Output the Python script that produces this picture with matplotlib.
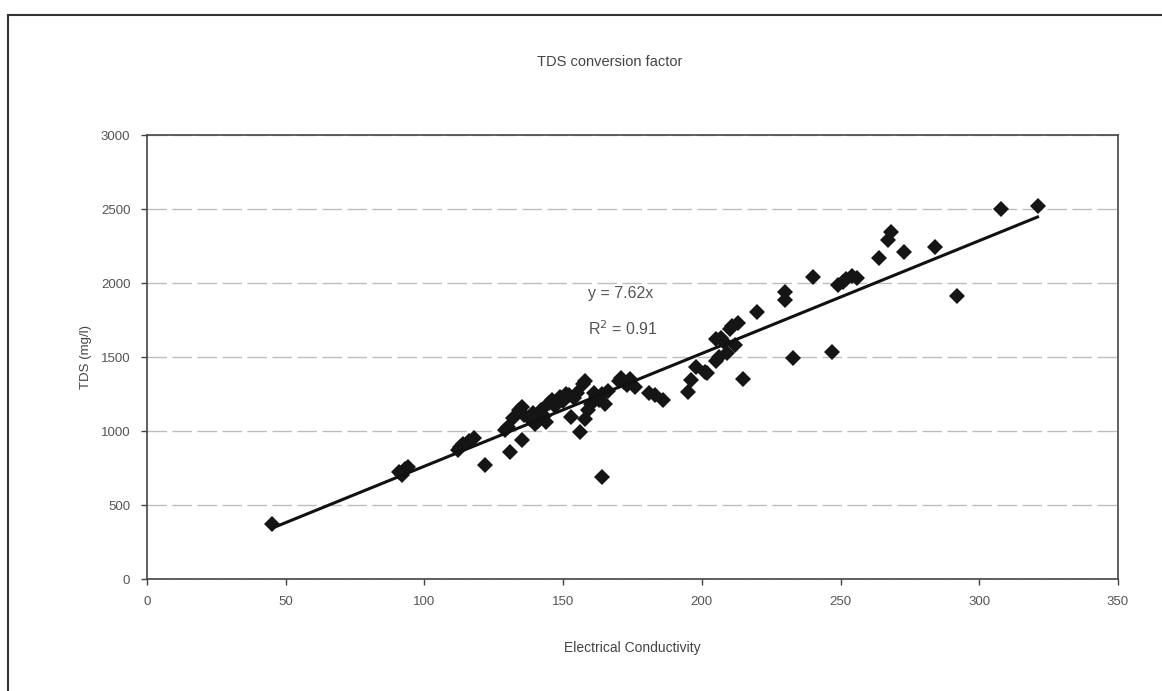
import matplotlib
matplotlib.use("Agg")
import matplotlib.pyplot as plt
from matplotlib.lines import Line2D
import numpy as np

plt.rcParams['font.family'] = ['Liberation Sans', 'DejaVu Sans']

title = "TDS conversion factor"
x_label = "Electrical Conductivity"
y_label = "TDS (mg/l)"
slope = 7.62
r2 = 0.91

ec = [45, 91, 92, 93, 94, 112, 113, 114, 116, 118, 122, 129, 130, 131, 132, 134, 135, 135,
      136, 138, 139, 140, 141, 142, 143, 144, 145, 146, 147, 149, 150, 151, 152, 153, 154,
      155, 156, 157, 158, 158, 159, 160, 161, 162, 163, 164, 164, 165, 166, 170, 171, 172,
      173, 174, 176, 181, 183, 186, 195, 196, 198, 201, 202, 205, 205, 206, 207, 208, 209,
      210, 211, 212, 213, 215, 220, 230, 230, 233, 240, 247, 249, 251, 252, 254, 256, 264,
      267, 268, 273, 284, 292, 308, 321]
tds = [375, 720, 705, 745, 760, 870, 895, 915, 935, 955, 770, 1010, 1030, 860, 1090, 1140,
       1160, 940, 1110, 1080, 1120, 1050, 1070, 1140, 1100, 1060, 1190, 1210, 1170, 1230,
       1200, 1250, 1240, 1095, 1220, 1260, 990, 1320, 1340, 1080, 1140, 1180, 1260, 1230,
       1210, 690, 1250, 1180, 1270, 1340, 1360, 1330, 1310, 1350, 1300, 1260, 1240, 1210,
       1265, 1345, 1430, 1400, 1390, 1470, 1620, 1500, 1630, 1600, 1530, 1690, 1710, 1580,
       1730, 1350, 1805, 1885, 1940, 1490, 2040, 1535, 1985, 2010, 2030, 2045, 2035, 2170,
       2290, 2345, 2210, 2245, 1910, 2500, 2520]

x_ticks = [0, 50, 100, 150, 200, 250, 300, 350]
y_ticks = [0, 500, 1000, 1500, 2000, 2500, 3000]

W, H = 1162, 691
fig = plt.figure(figsize=(W / 100, H / 100), dpi=100)
fig.patch.set_facecolor('white')

ax = fig.add_axes([147 / W, 1 - 579 / H, (1118 - 147) / W, (579 - 135) / H])
ax.set_xlim(0, 350)
ax.set_ylim(0, 3000)
ax.set_xticks(x_ticks)
ax.set_yticks(y_ticks)
ax.yaxis.grid(True, color='#bdbdbd', linewidth=1.0, linestyle=(0, (14, 4)))
ax.set_axisbelow(True)
for s in ax.spines.values():
    s.set_color('#444444')
    s.set_linewidth(1.2)
ax.tick_params(axis='both', colors='#444444', labelcolor='#555555', labelsize=9.5,
               length=4, width=1, direction='out', pad=8)

ax.plot(ec, tds, linestyle='none', marker='D', markersize=8, color='#151515',
        markeredgewidth=0, zorder=3)

xl = np.array([min(ec), max(ec)])
ax.plot(xl, slope * xl, color='#111111', linewidth=2.2, zorder=4)

ax.text(159, 1930, f"y = {slope:.2f}x", fontsize=11.5, color='#555555', va='center', ha='left')
ax.text(159, 1693, f"R$^2$ = {r2:.2f}", fontsize=11.5, color='#555555', va='center', ha='left')

ax.set_xlabel(x_label, fontsize=10, color='#444444', labelpad=24)
ax.set_ylabel(y_label, fontsize=9.5, color='#444444', labelpad=6)

fig.text(610 / W, 1 - 62 / H, title, fontsize=10.5, color='#444444', ha='center', va='center')

# outer chart frame (partially visible in the scan)
fig.add_artist(Line2D([8 / W, 1.0], [1 - 15 / H, 1 - 15 / H], transform=fig.transFigure,
                      color='#333333', linewidth=1.5))
fig.add_artist(Line2D([8 / W, 8 / W], [0.0, 1 - 15 / H], transform=fig.transFigure,
                      color='#333333', linewidth=1.5))

fig.savefig("out.png", dpi=100)
